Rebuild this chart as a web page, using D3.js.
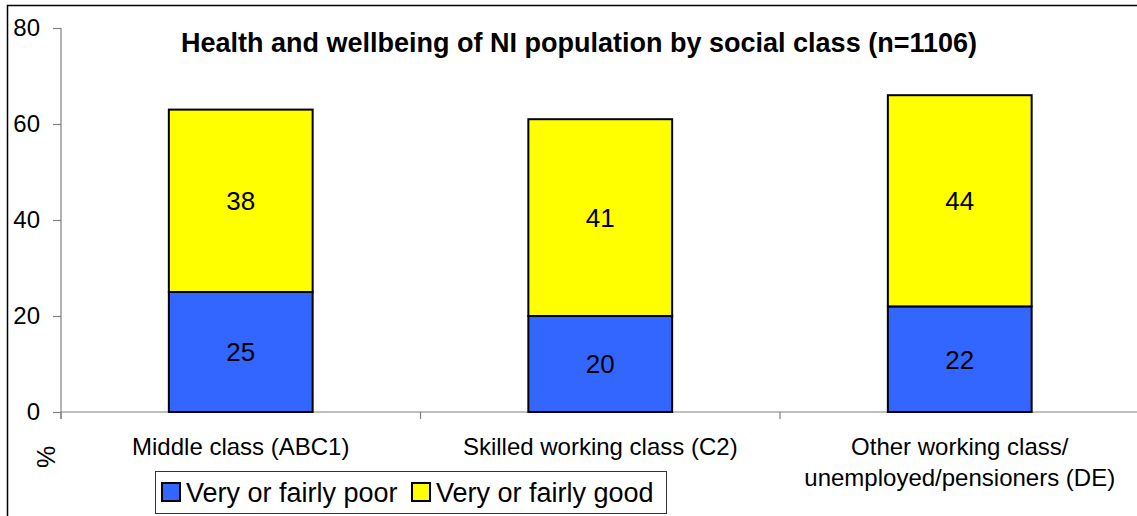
<!DOCTYPE html>
<html>
<head>
<meta charset="utf-8">
<script src="https://cdnjs.cloudflare.com/ajax/libs/d3/7.8.5/d3.min.js"></script>
<style>
  body { margin: 0; background: #fff; }
  svg { display: block; font-family: "Liberation Sans", Arial, sans-serif; }
</style>
</head>
<body>
<div id="chart"></div>
<script>
// Chart data
const categories = ["Middle class (ABC1)", "Skilled working class (C2)", "Other working class/\nunemployed/pensioners (DE)"];
const poor = [25, 20, 22];
const good = [38, 41, 44];
const seriesNames = ["Very or fairly poor", "Very or fairly good"];
const seriesColors = ["#3366ff", "#ffff00"];
const yTicks = [0, 20, 40, 60, 80];

// Setup
const width = 1137;
const height = 516;
const plotLeft = 61, plotRight = 1139.5, plotTop = 28, plotBottom = 412;

const svg = d3.select("#chart")
    .append("svg")
    .attr("width", width)
    .attr("height", height);

// outer frame (only left and top edges show in the picture)
svg.append("path")
    .attr("d", `M7.5,${height} V5.5 H${width}`)
    .attr("fill", "none")
    .attr("stroke", "#000")
    .attr("stroke-width", 1.5);

const x = d3.scaleBand()
    .domain(categories)
    .range([plotLeft, plotRight])
    .paddingInner(0.6)
    .paddingOuter(0.3);

const y = d3.scaleLinear()
    .domain([0, 80])
    .range([plotBottom, plotTop]);

// stacked rows
const rows = categories.map((c, i) => ({ cat: c, poor: poor[i], good: good[i] }));
const stack = d3.stack().keys(["poor", "good"])(rows);

// y axis
const yAxis = svg.append("g")
    .attr("transform", `translate(${plotLeft},0)`)
    .call(d3.axisLeft(y).tickValues(yTicks).tickSize(8).tickPadding(13));
yAxis.select(".domain").attr("stroke", "#808080").attr("stroke-width", 1.2)
    .attr("d", `M0,${plotTop}V${plotBottom + 7}`);
yAxis.selectAll(".tick line").attr("stroke", "#808080").attr("stroke-width", 1.2);
yAxis.selectAll(".tick text")
    .attr("font-size", 24)
    .attr("fill", "#000")
    .attr("font-family", "Liberation Sans, Arial, sans-serif");

// x axis line + tick marks at category boundaries
const xg = svg.append("g");
xg.append("line")
    .attr("x1", plotLeft).attr("x2", width)
    .attr("y1", plotBottom).attr("y2", plotBottom)
    .attr("stroke", "#808080").attr("stroke-width", 1.2);
const bounds = categories.map(c => x(c) - x.step() * x.paddingOuter()).concat([plotRight]);
xg.selectAll(".xtick")
    .data(bounds)
    .join("line")
    .attr("x1", d => d).attr("x2", d => d)
    .attr("y1", plotBottom).attr("y2", plotBottom + 7)
    .attr("stroke", "#808080").attr("stroke-width", 1.2);

// category labels
xg.selectAll(".xlabel")
    .data(categories)
    .join("text")
    .attr("x", d => x(d) + x.bandwidth() / 2)
    .attr("y", 455)
    .attr("text-anchor", "middle")
    .attr("font-size", 24)
    .selectAll("tspan")
    .data(d => d.split("\n").map((t, i) => ({ t, i, cx: x(d) + x.bandwidth() / 2 })))
    .join("tspan")
    .attr("x", d => d.cx)
    .attr("dy", d => d.i === 0 ? 0 : 31)
    .text(d => d.t);

// bars
const layer = svg.selectAll(".layer")
    .data(stack)
    .join("g")
    .attr("fill", (d, i) => seriesColors[i]);

layer.selectAll("rect")
    .data(d => d)
    .join("rect")
    .attr("x", d => x(d.data.cat))
    .attr("y", d => y(d[1]))
    .attr("width", x.bandwidth())
    .attr("height", d => y(d[0]) - y(d[1]))
    .attr("stroke", "#000")
    .attr("stroke-width", 2);

layer.selectAll("text")
    .data(d => d)
    .join("text")
    .attr("x", d => x(d.data.cat) + x.bandwidth() / 2)
    .attr("y", d => (y(d[0]) + y(d[1])) / 2)
    .attr("dy", "0.36em")
    .attr("text-anchor", "middle")
    .attr("font-size", 26)
    .attr("fill", "#000")
    .text(d => d[1] - d[0]);

// title
svg.append("text")
    .attr("x", 579)
    .attr("y", 52)
    .attr("text-anchor", "middle")
    .attr("font-size", 27)
    .attr("font-weight", "bold")
    .text("Health and wellbeing of NI population by social class (n=1106)");

// y axis title
svg.append("text")
    .attr("transform", "translate(46,457) rotate(-90)")
    .attr("text-anchor", "middle")
    .attr("dy", "0.35em")
    .attr("font-size", 25)
    .text("%");

// legend
const legend = svg.append("g").attr("transform", "translate(155,471)");
legend.append("rect")
    .attr("x", 0.5).attr("y", 0.5)
    .attr("width", 511).attr("height", 42)
    .attr("fill", "#fff")
    .attr("stroke", "#333").attr("stroke-width", 1);

const legX = [7, 257];
const items = legend.selectAll(".item")
    .data(seriesNames)
    .join("g")
    .attr("transform", (d, i) => `translate(${legX[i]},12)`);
items.append("rect")
    .attr("width", 18).attr("height", 18)
    .attr("fill", (d, i) => seriesColors[i])
    .attr("stroke", "#000").attr("stroke-width", 2);
items.append("text")
    .attr("x", 24)
    .attr("y", 9)
    .attr("dy", "0.36em")
    .attr("font-size", 27)
    .text(d => d);
</script>
</body>
</html>
